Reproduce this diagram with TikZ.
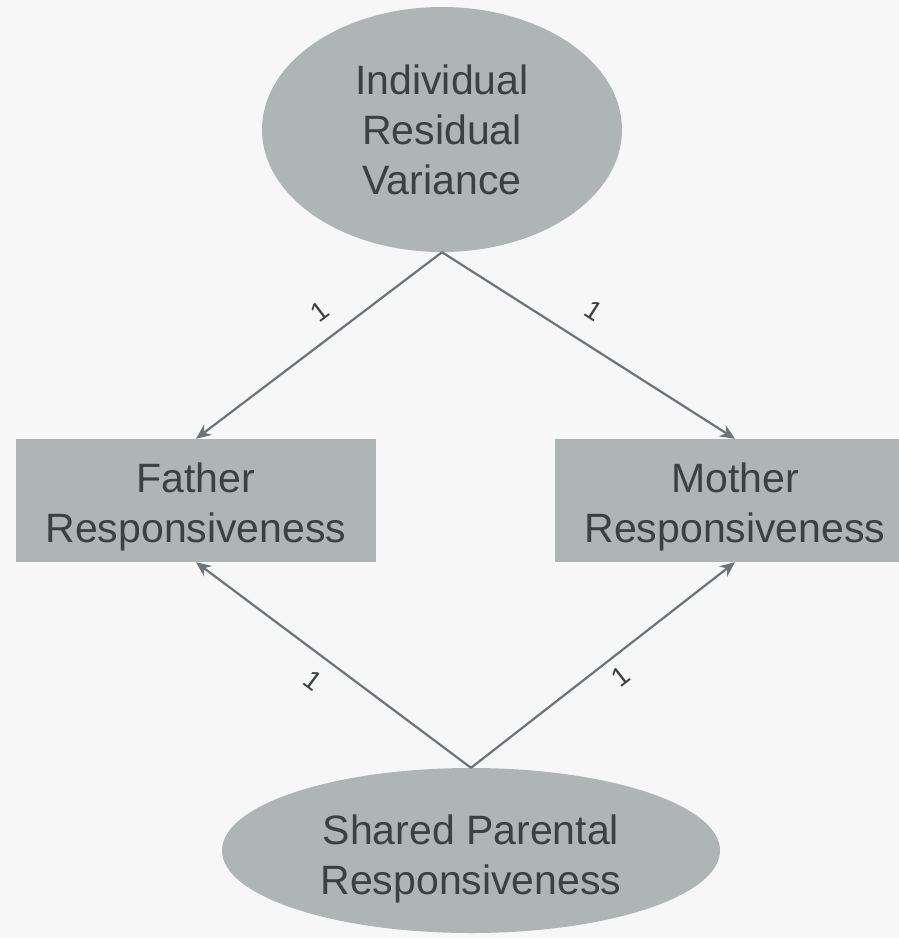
\documentclass[tikz,border=0pt]{standalone}
\usepackage{fontspec}
\setmainfont{Liberation Sans}
\usetikzlibrary{shapes.geometric,arrows.meta}
\definecolor{bgcol}{HTML}{F7F7F7}
\definecolor{shapecol}{HTML}{AFB5B4}
\definecolor{textcol}{HTML}{3C4040}
\definecolor{linecol}{HTML}{6C7477}
\begin{document}
\begin{tikzpicture}[x=1pt,y=-1pt,
    nodetext/.style={text=textcol, inner sep=0pt, align=center,
        font=\fontsize{41}{50}\selectfont},
    latent/.style={ellipse, fill=shapecol, inner sep=0pt},
    observed/.style={rectangle, fill=shapecol, inner sep=0pt,
        minimum width=360pt, minimum height=123pt},
    path/.style={-{Stealth[length=15pt,width=13pt]}, draw=linecol, line width=2.2pt},
    weight/.style={text=textcol, inner sep=0pt, font=\fontsize{27}{27}\selectfont, sloped}]
    \fill[bgcol] (0,0) rectangle (899,938);
    \useasboundingbox (0,0) rectangle (899,938);

    \node[latent, minimum width=360pt, minimum height=245pt,
        label={[nodetext]center:Individual\\Residual\\Variance}] (indiv) at (442,129.5) {};
    \node[latent, minimum width=498pt, minimum height=165pt,
        label={[nodetext, yshift=-8pt]center:Shared Parental\\Responsiveness}] (shared) at (471,850.5) {};

    \node[observed, label={[nodetext, yshift=-6pt]center:Father\\Responsiveness}] (father) at (196,500.5) {};
    \node[observed, label={[nodetext, yshift=-6pt]center:Mother\\Responsiveness}] (mother) at (735,500.5) {};

    \draw[path] (indiv.south) -- node[weight, pos=0.43, above=16pt] {1} (father.north);
    \draw[path] (indiv.south) -- node[weight, pos=0.46, above=22pt] {1} (mother.north);
    \draw[path] (shared.north) -- node[weight, pos=0.52, below=14pt] {1} (father.south);
    \draw[path] (shared.north) -- node[weight, pos=0.52, below=10pt] {1} (mother.south);
\end{tikzpicture}
\end{document}
